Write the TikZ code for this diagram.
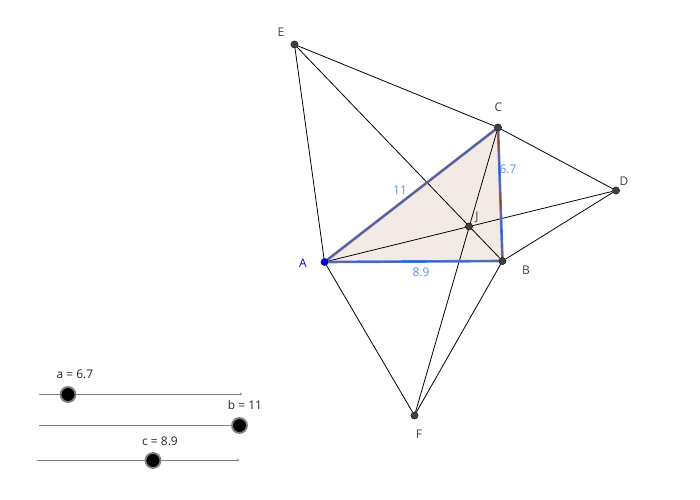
\documentclass[tikz,border=0pt]{standalone}
\usepackage{fontspec}
\setmainfont{Open Sans}
\usetikzlibrary{arrows.meta}
\usetikzlibrary{backgrounds}
\definecolor{triangle}{RGB}{244,234,229}
\definecolor{sidebrown}{RGB}{150,70,40}
\definecolor{sidelight}{RGB}{70,120,230}
\definecolor{lenblue}{RGB}{90,145,250}
\tikzset{
  pt/.style={circle,fill=black!75,draw=black,line width=0.2pt,inner sep=0pt,minimum size=0.145cm},
  ptlabel/.style={font=\fontsize{6.8}{8}\selectfont,text=black!75,inner sep=0pt},
  lenlabel/.style={font=\fontsize{6.8}{8}\selectfont,text=lenblue,inner sep=0pt},
  edge/.style={black,line width=0.45pt},
  slider/.style={black!50,line width=0.35pt,-{To[length=1.2pt,width=1.6pt]}},
  thumb/.style={circle,fill=black,draw=black!50,line width=1.05pt,inner sep=0pt,minimum size=0.3cm},
  sidered/.style={draw=sidebrown,line width=0.45pt},
  sideblue/.style={draw=sidelight,line width=1.5pt}
}
\begin{document}
\begin{tikzpicture}[x=0.02cm,y=-0.02cm]
\useasboundingbox (0,0) rectangle (700,500);

\node[pt] (E) at (294.5,44.5) {};
\node[pt] (D) at (616,190.5) {};
\node[pt] (F) at (414.5,415.5) {};
\node[pt] (J) at (469,226.5) {};
\node[pt] (C) at (498,127.5) {};
\node[pt] (B) at (502.5,261) {};
\node[pt,fill=blue!90!black,draw=blue!40!black] (A) at (324.5,262) {};

\begin{pgfonlayer}{background}
\fill[triangle] (A.center) -- (B.center) -- (C.center) -- cycle;

\draw[edge] (E) -- (A);
\draw[edge] (E) -- (C);
\draw[edge] (E) -- (B);
\draw[edge] (C) -- (D);
\draw[edge] (D) -- (B);
\draw[edge] (D) -- (A);
\draw[edge] (F) -- (A);
\draw[edge] (F) -- (B);
\draw[edge] (F) -- (C);

\draw[sideblue] (A.center) -- (C.center);
\draw[sideblue] (A.center) -- (B.center);
\draw[sideblue] (B.center) -- (C.center);
\draw[sidered] (A.center) -- (C.center);
\draw[sidered] (A.center) -- (B.center);
\draw[sidered] (B.center) -- (C.center);
\end{pgfonlayer}

\node[ptlabel] (labelE) at (281,32) {E};
\node[ptlabel] (labelC) at (498.5,107) {C};
\node[ptlabel] (labelD) at (624,181) {D};
\node[ptlabel] (labelJ) at (477,217) {J};
\node[ptlabel] (labelB) at (526,270) {B};
\node[ptlabel] (labelF) at (419,434) {F};
\node[ptlabel,text=blue!90!black] (labelA) at (303,263) {A};

\node[lenlabel] (lenb) at (400,190) {11};
\node[lenlabel] (lena) at (508,169) {6.7};
\node[lenlabel] (lenc) at (421,272.5) {8.9};

%sliders
\coordinate (aL) at (39,394);
\coordinate (aR) at (242,394);
\coordinate (bL) at (39,425);
\coordinate (bR) at (240,425);
\coordinate (cL) at (37,460);
\coordinate (cR) at (239,460);

\draw[slider] (aL) -- (aR);
\draw[slider] (bL) -- (bR);
\draw[slider] (cL) -- (cR);

\node[thumb] (thumba) at (68,394.5) {};
\node[thumb] (thumbb) at (239.5,425.5) {};
\node[thumb] (thumbc) at (153,460.5) {};

\node[ptlabel,text=black!85] (labela) at (75,374.5) {a = 6.7};
\node[ptlabel,text=black!85] (labelb) at (245,405.5) {b = 11};
\node[ptlabel,text=black!85] (labelc) at (160,441) {c = 8.9};

\end{tikzpicture}
\end{document}
